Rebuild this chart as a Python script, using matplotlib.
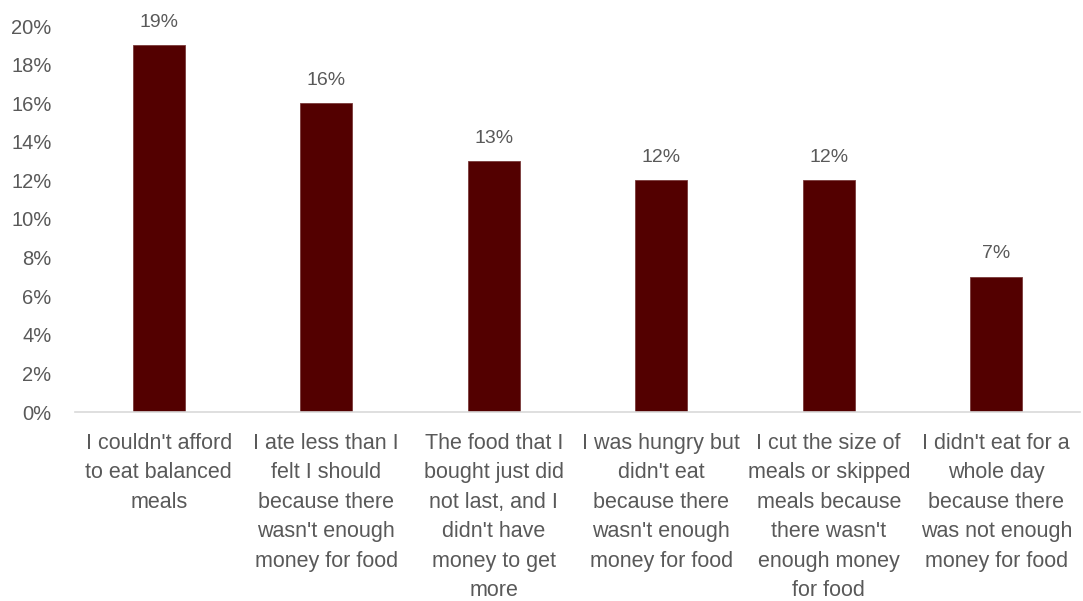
import matplotlib
matplotlib.use("Agg")
import matplotlib.pyplot as plt
from matplotlib.ticker import PercentFormatter

# data
categories = [
	"I couldn't afford\nto eat balanced\nmeals",
	"I ate less than I\nfelt I should\nbecause there\nwasn't enough\nmoney for food",
	"The food that I\nbought just did\nnot last, and I\ndidn't have\nmoney to get\nmore",
	"I was hungry but\ndidn't eat\nbecause there\nwasn't enough\nmoney for food",
	"I cut the size of\nmeals or skipped\nmeals because\nthere wasn't\nenough money\nfor food",
	"I didn't eat for a\nwhole day\nbecause there\nwas not enough\nmoney for food",
]
values = [19, 16, 13, 12, 12, 7]

plt.rcParams['font.family'] = ['Liberation Sans', 'DejaVu Sans']
txtColor = "#595959"

fig = plt.figure(figsize=(10.83, 6.01), dpi=100)
ax = fig.add_axes([75/1083, 1 - 412/601, 1005/1083, 386/601])

x = range(len(values))
bars = ax.bar(x, values, width=0.31, color="#530000", edgecolor="#7a3a3a", linewidth=0.6)

for b, v in zip(bars, values):
	ax.text(b.get_x() + b.get_width()/2, v + 0.75, "{}%".format(v),
		ha="center", va="bottom", fontsize=14, color=txtColor)

ax.set_xlim(-0.5, len(values) - 0.5)
ax.set_ylim(0, 20)
ax.set_yticks(range(0, 21, 2))
ax.yaxis.set_major_formatter(PercentFormatter(decimals=0))
ax.set_xticks(list(x))
ax.set_xticklabels(categories, fontsize=15.5, color=txtColor, linespacing=1.53, va="top")
ax.tick_params(axis="x", length=0, pad=15)
ax.tick_params(axis="y", length=0, labelsize=14.5, labelcolor=txtColor, pad=17)

for s in ["top", "right", "left"]:
	ax.spines[s].set_visible(False)
ax.spines["bottom"].set_color("#d9d9d9")
ax.spines["bottom"].set_linewidth(1.2)

fig.savefig("out.png", dpi=100)
